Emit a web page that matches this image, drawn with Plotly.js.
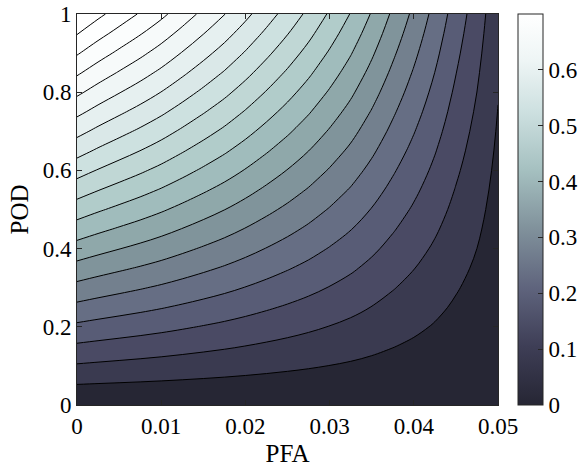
<!DOCTYPE html>
<html>
<head>
<meta charset="utf-8">
<script src="https://cdn.plot.ly/plotly-3.0.1.min.js"></script>
<style>
  html, body { margin: 0; padding: 0; background: #ffffff; }
  #chart { width: 580px; height: 468px; }
</style>
</head>
<body>
<div id="chart"></div>
<script>
// Probability of false alarm (x) and probability of detection (y) grids
const pfa = [0, 0.0025, 0.005, 0.0075, 0.01, 0.0125, 0.015, 0.0175, 0.02, 0.0225, 0.025,
             0.0275, 0.03, 0.0325, 0.035, 0.0375, 0.04, 0.0425, 0.045, 0.0475, 0.05];
const pod = [0, 0.05, 0.1, 0.15, 0.2, 0.25, 0.3, 0.35, 0.4, 0.45, 0.5,
             0.55, 0.6, 0.65, 0.7, 0.75, 0.8, 0.85, 0.9, 0.95, 1];

// Score along POD = 1 for every PFA column; the score scales linearly with POD
const scoreAtFullPod = [0.700, 0.672, 0.647, 0.623, 0.598, 0.571, 0.544, 0.517, 0.488, 0.458, 0.428,
                        0.397, 0.364, 0.330, 0.292, 0.252, 0.213, 0.173, 0.131, 0.092, 0.048];

const xTicks = [0, 0.01, 0.02, 0.03, 0.04, 0.05];
const yTicks = [0, 0.2, 0.4, 0.6, 0.8, 1];
const colorTicks = [0, 0.1, 0.2, 0.3, 0.4, 0.5, 0.6];

// Score table: one row per POD value, one column per PFA value
const z = pod.map(p => scoreAtFullPod.map(s => p * s));

const scoreMax = scoreAtFullPod[0];
const bands = 19;
const step = scoreMax / bands;

// Continuous grey-blue ramp of the colour bar
const barScale = [
  [0,    'rgb(38,38,52)'],
  [0.15, 'rgb(62,62,86)'],
  [0.3,  'rgb(95,100,125)'],
  [0.45, 'rgb(128,145,155)'],
  [0.6,  'rgb(165,192,192)'],
  [0.75, 'rgb(205,224,224)'],
  [0.88, 'rgb(238,245,245)'],
  [1,    'rgb(255,255,255)']
];

// Fill colour of each band between contour levels, lowest band first
const bandColors = [
  'rgb(38,38,52)', 'rgb(58,58,80)', 'rgb(74,74,100)', 'rgb(88,92,118)',
  'rgb(102,110,132)', 'rgb(115,128,142)', 'rgb(128,148,155)', 'rgb(143,168,170)',
  'rgb(160,188,188)', 'rgb(177,204,202)', 'rgb(192,215,213)', 'rgb(205,225,224)',
  'rgb(218,232,232)', 'rgb(230,240,240)', 'rgb(240,246,246)', 'rgb(247,250,250)',
  'rgb(251,253,253)', 'rgb(254,255,255)', 'rgb(255,255,255)'
];
const bandScale = bandColors.map((c, i) => [i / (bandColors.length - 1), c]);

const serif = '"Liberation Serif", "Times New Roman", Times, serif';
const ink = '#262626';

// Colour bar placement (paper units, plot area is 421 px wide)
const barX = 1.0475;
const tickSpan = 5 / 421;

const axisCommon = {
  showgrid: false,
  zeroline: false,
  showline: true,
  mirror: 'ticks',
  linecolor: ink,
  linewidth: 1,
  ticks: 'inside',
  ticklen: 5,
  tickwidth: 1,
  tickcolor: ink,
  tickfont: { family: serif, size: 23, color: '#000' }
};

const traces = [
  {
    // transparent copy of the table that carries the continuous colour bar
    type: 'heatmap',
    x: pfa, y: pod, z: z,
    zmin: 0, zmax: scoreMax,
    colorscale: barScale,
    opacity: 0,
    hoverinfo: 'skip',
    showscale: true,
    colorbar: {
      thickness: 25, thicknessmode: 'pixels',
      len: 1, lenmode: 'fraction',
      x: barX, xanchor: 'left', xpad: 0,
      y: 0.5, yanchor: 'middle', ypad: 0,
      outlinewidth: 1, outlinecolor: ink,
      ticks: 'inside', ticklen: 5, tickcolor: ink,
      tickvals: colorTicks,
      ticktext: colorTicks.map(String),
      tickfont: { family: serif, size: 23, color: '#000' }
    }
  },
  {
    type: 'contour',
    x: pfa, y: pod, z: z,
    autocontour: false,
    contours: {
      start: step,
      end: step * (bands - 1),
      size: step,
      coloring: 'fill',
      showlines: true
    },
    line: { color: '#000', width: 1, smoothing: 1 },
    colorscale: bandScale,
    showscale: false,
    hoverinfo: 'skip'
  }
];

// tick marks on the left edge of the colour bar
const barLeftTicks = colorTicks.filter(v => v > 0).map(v => ({
  type: 'line', xref: 'paper', yref: 'paper',
  x0: barX, x1: barX + tickSpan,
  y0: v / scoreMax, y1: v / scoreMax,
  line: { color: ink, width: 1 }
}));

const layout = {
  width: 580,
  height: 468,
  margin: { l: 77, r: 82, t: 14, b: 63, autoexpand: false },
  paper_bgcolor: '#ffffff',
  plot_bgcolor: '#ffffff',
  showlegend: false,
  font: { family: serif, color: '#000' },
  shapes: barLeftTicks,
  xaxis: Object.assign({}, axisCommon, {
    range: [0, 0.05],
    tickvals: xTicks,
    ticktext: xTicks.map(String),
    title: { text: 'PFA', font: { family: serif, size: 25, color: '#000' }, standoff: 6 }
  }),
  yaxis: Object.assign({}, axisCommon, {
    range: [0, 1],
    tickvals: yTicks,
    ticktext: yTicks.map(String),
    title: { text: 'POD', font: { family: serif, size: 25, color: '#000' }, standoff: 6 }
  })
};

Plotly.newPlot('chart', traces, layout, { displayModeBar: false, staticPlot: true });
</script>
</body>
</html>
